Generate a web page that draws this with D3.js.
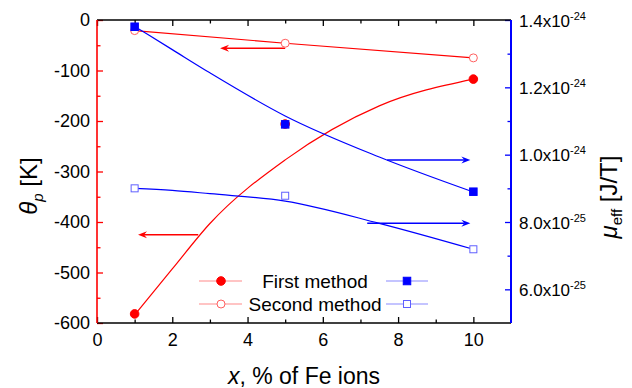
<!DOCTYPE html>
<html>
<head>
<meta charset="utf-8">
<script src="https://d3js.org/d3.v7.min.js"></script>
<style>
  body { margin: 0; background: #fff; }
  svg { font-family: "Liberation Sans", Arial, sans-serif; }
</style>
</head>
<body>
<svg id="chart" width="632" height="388"></svg>
<script>
// measured points, x = % of Fe ions
var xs = [1, 5, 10];
var thetaFirst = [-582, -206, -117];
var thetaSecond = [-21, -46, -75];
var muFirst = [1.38e-24, 1.09e-24, 0.89e-24];
var muSecond = [0.90e-24, 0.878e-24, 0.719e-24];

// fitted curves
var fitX = [1, 2, 3, 5, 7.5, 10];
var thetaFirstFit = [-584, -493, -403, -277, -170, -117];
var muFirstFit = [1.381e-24, 1.312e-24, 1.243e-24, 1.115e-24, 0.993e-24, 0.889e-24];
var muSecondFit = [0.900e-24, 0.894e-24, 0.884e-24, 0.862e-24, 0.796e-24, 0.719e-24];

// arrows telling which axis a curve belongs to
var leftArrows = [{x1: 5, x2: 3.27, y: -56}, {x1: 2.69, x2: 1.09, y: -425}];
var rightArrows = [{x1: 7.71, x2: 9.92, y: 0.984e-24}, {x1: 7.18, x2: 9.92, y: 0.796e-24}];

var xTicks = [0, 2, 4, 6, 8, 10];
var xMinor = [1, 3, 5, 7, 9];
var thetaTicks = [0, -100, -200, -300, -400, -500, -600];
var thetaMinor = [-50, -150, -250, -350, -450, -550];
var muTicks = [6.0e-25, 8.0e-25, 1.0e-24, 1.2e-24, 1.4e-24];
var muMinor = [7.0e-25, 9.0e-25, 1.1e-24, 1.3e-24];

var RED = "#ff0000", BLUE = "#0000ff";
var pLeft = 97, pRight = 511, pTop = 20, pBottom = 323;

var svg = d3.select("#chart");

var x = d3.scaleLinear().domain([0, 11]).range([pLeft, pRight]);
var yL = d3.scaleLinear().domain([-600, 0]).range([pBottom, pTop]);
var yR = d3.scaleLinear().domain([0.5e-24, 1.4e-24]).range([pBottom, pTop]);

// axes
function styleAxis(g, color, width) {
    g.select(".domain").remove();
    g.selectAll(".tick line").attr("stroke", color).attr("stroke-width", width);
    g.selectAll("text").attr("fill", "#000");
}

var gb = svg.append("g").attr("transform", "translate(0," + pBottom + ")")
    .call(d3.axisBottom(x).tickValues(xTicks).tickSizeInner(-6).tickSizeOuter(0).tickPadding(10));
styleAxis(gb, "#000", 1.3);
gb.selectAll("text").style("font-size", "18px");
var gbm = svg.append("g").attr("transform", "translate(0," + pBottom + ")")
    .call(d3.axisBottom(x).tickValues(xMinor).tickSize(-3.5).tickFormat(""));
styleAxis(gbm, "#000", 1.3);

var gt = svg.append("g").attr("transform", "translate(0," + pTop + ")")
    .call(d3.axisTop(x).tickValues(xTicks).tickSize(-6).tickFormat(""));
styleAxis(gt, "#000", 1.3);
var gtm = svg.append("g").attr("transform", "translate(0," + pTop + ")")
    .call(d3.axisTop(x).tickValues(xMinor).tickSize(-3.5).tickFormat(""));
styleAxis(gtm, "#000", 1.3);

var gl = svg.append("g").attr("transform", "translate(" + pLeft + ",0)")
    .call(d3.axisLeft(yL).tickValues(thetaTicks).tickSizeInner(-6).tickSizeOuter(0).tickPadding(7)
        .tickFormat(function(d) { return String(d); }));
styleAxis(gl, RED, 1.3);
gl.selectAll("text").style("font-size", "18px");
var glm = svg.append("g").attr("transform", "translate(" + pLeft + ",0)")
    .call(d3.axisLeft(yL).tickValues(thetaMinor).tickSize(-3.5).tickFormat(""));
styleAxis(glm, RED, 1.3);

var gr = svg.append("g").attr("transform", "translate(" + pRight + ",0)")
    .call(d3.axisRight(yR).tickValues(muTicks).tickSizeInner(-6).tickSizeOuter(0).tickFormat(""));
styleAxis(gr, BLUE, 1.3);
var grm = svg.append("g").attr("transform", "translate(" + pRight + ",0)")
    .call(d3.axisRight(yR).tickValues(muMinor).tickSize(-3.5).tickFormat(""));
styleAxis(grm, BLUE, 1.3);

// right tick labels as mantissa x 10^exp
muTicks.forEach(function(v) {
    var e = Math.floor(Math.log10(v) + 1e-9);
    var m = (v / Math.pow(10, e)).toFixed(1);
    var t = svg.append("text").attr("x", pRight + 8).attr("y", yR(v) + 6.5)
        .style("font-size", "17px");
    t.append("tspan").text(m + "x10");
    t.append("tspan").attr("dy", -7).style("font-size", "11px").text(e);
});

// frame lines
svg.append("line").attr("x1", pLeft).attr("x2", pRight).attr("y1", pTop).attr("y2", pTop)
    .attr("stroke", "#000").attr("stroke-width", 1.5);
svg.append("line").attr("x1", pLeft).attr("x2", pRight).attr("y1", pBottom).attr("y2", pBottom)
    .attr("stroke", "#000").attr("stroke-width", 1.5);
svg.append("line").attr("x1", pLeft).attr("x2", pLeft).attr("y1", pTop).attr("y2", pBottom)
    .attr("stroke", RED).attr("stroke-width", 1.6);
svg.append("line").attr("x1", pRight).attr("x2", pRight).attr("y1", pTop).attr("y2", pBottom)
    .attr("stroke", BLUE).attr("stroke-width", 2);

// axis titles
svg.append("text").attr("x", 304).attr("y", 384).attr("text-anchor", "middle")
    .style("font-size", "23px")
    .call(function(t) {
        t.append("tspan").style("font-style", "italic").text("x");
        t.append("tspan").text(", % of Fe ions");
    });

svg.append("text").attr("transform", "translate(37,186) rotate(-90)").attr("text-anchor", "middle")
    .style("font-size", "24px")
    .call(function(t) {
        t.append("tspan").style("font-style", "italic").text("θ");
        t.append("tspan").style("font-style", "italic").style("font-size", "15px").attr("dy", 6).text("p");
        t.append("tspan").attr("dy", -6).text(" [K]");
    });

svg.append("text").attr("transform", "translate(617,197) rotate(-90)").attr("text-anchor", "middle")
    .style("font-size", "24px")
    .call(function(t) {
        t.append("tspan").style("font-style", "italic").text("μ");
        t.append("tspan").style("font-size", "15px").attr("dy", 5).text("eff");
        t.append("tspan").attr("dy", -5).text(" [J/T]");
    });

// curves
var fitLineL = d3.line().x(function(d) { return x(d[0]); }).y(function(d) { return yL(d[1]); })
    .curve(d3.curveMonotoneX);
var fitLineR = d3.line().x(function(d) { return x(d[0]); }).y(function(d) { return yR(d[1]); })
    .curve(d3.curveMonotoneX);
var polyL = d3.line().x(function(d) { return x(d[0]); }).y(function(d) { return yL(d[1]); });

svg.append("path").attr("d", fitLineL(d3.zip(fitX, thetaFirstFit)))
    .attr("fill", "none").attr("stroke", RED).attr("stroke-width", 1.2);
svg.append("path").attr("d", polyL(d3.zip(xs, thetaSecond)))
    .attr("fill", "none").attr("stroke", RED).attr("stroke-width", 1.1);
svg.append("path").attr("d", fitLineR(d3.zip(fitX, muFirstFit)))
    .attr("fill", "none").attr("stroke", BLUE).attr("stroke-width", 1.2);
svg.append("path").attr("d", fitLineR(d3.zip(fitX, muSecondFit)))
    .attr("fill", "none").attr("stroke", BLUE).attr("stroke-width", 1.2);

// arrows
function arrow(x1, x2, y, color) {
    var dir = x2 < x1 ? -1 : 1;
    svg.append("line").attr("x1", x1).attr("x2", x2 - dir * 6).attr("y1", y).attr("y2", y)
        .attr("stroke", color).attr("stroke-width", 1.5);
    svg.append("path")
        .attr("d", "M" + x2 + "," + y + "L" + (x2 - dir * 9) + "," + (y - 3.5) +
            "L" + (x2 - dir * 6) + "," + y + "L" + (x2 - dir * 9) + "," + (y + 3.5) + "Z")
        .attr("fill", color);
}
leftArrows.forEach(function(a) { arrow(x(a.x1), x(a.x2), yL(a.y), RED); });
rightArrows.forEach(function(a) { arrow(x(a.x1), x(a.x2), yR(a.y), BLUE); });

// markers
function circle(cx, cy, filled, color) {
    svg.append("circle").attr("cx", cx).attr("cy", cy).attr("r", filled ? 4.3 : 4)
        .attr("fill", filled ? color : "#fff").attr("stroke", color).attr("stroke-width", 1);
}
function square(cx, cy, filled, color) {
    var s = filled ? 7.5 : 7;
    svg.append("rect").attr("x", cx - s / 2).attr("y", cy - s / 2).attr("width", s).attr("height", s)
        .attr("fill", filled ? color : "#fff").attr("stroke", color).attr("stroke-width", 1);
}
xs.forEach(function(v, i) { circle(x(v), yL(thetaSecond[i]), false, "#ff6060"); });
xs.forEach(function(v, i) { square(x(v), yR(muSecond[i]), false, "#6060ff"); });
xs.forEach(function(v, i) { circle(x(v), yL(thetaFirst[i]), true, RED); });
xs.forEach(function(v, i) { square(x(v), yR(muFirst[i]), true, BLUE); });

// legend
var legend = [
    {label: "First method", y: 281, filled: true},
    {label: "Second method", y: 304, filled: false}
];
legend.forEach(function(d) {
    svg.append("line").attr("x1", 199).attr("x2", 242).attr("y1", d.y).attr("y2", d.y)
        .attr("stroke", "#ff8a8a").attr("stroke-width", 1.2);
    circle(221, d.y, d.filled, d.filled ? RED : "#ff6060");
    svg.append("text").attr("x", 315).attr("y", d.y + 7).attr("text-anchor", "middle")
        .style("font-size", "19px").text(d.label);
    svg.append("line").attr("x1", 386).attr("x2", 428).attr("y1", d.y).attr("y2", d.y)
        .attr("stroke", "#8a8aff").attr("stroke-width", 1.2);
    square(407, d.y, d.filled, d.filled ? BLUE : "#6060ff");
});
</script>
</body>
</html>
